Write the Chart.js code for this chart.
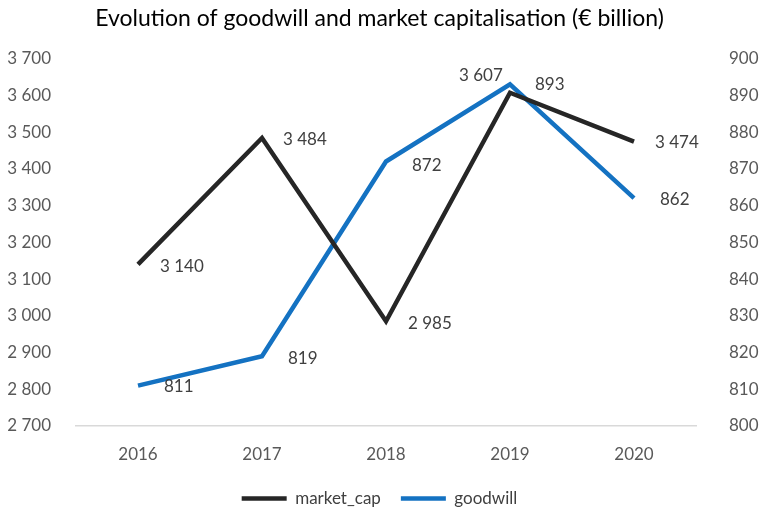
<!DOCTYPE html>
<html>
<head>
<meta charset="utf-8">
<script src="https://cdn.jsdelivr.net/npm/chart.js@4/dist/chart.umd.min.js"></script>
<style>
  html, body { margin: 0; padding: 0; background: #fff; }
  #wrap { width: 759px; height: 512px; }
</style>
</head>
<body>
<div id="wrap"><canvas id="chart"></canvas></div>
<script>
const years = ['2016', '2017', '2018', '2019', '2020'];
const marketCap = [3140, 3484, 2985, 3607, 3474];
const goodwill = [811, 819, 872, 893, 862];

const fmt = v => String(v).replace(/\B(?=(\d{3})+(?!\d))/g, ' ');
const FONT = 'Lato, "Open Sans", sans-serif';

// value labels, offset from each point (dx, dy)
const valueLabels = {
  id: 'valueLabels',
  afterDatasetsDraw(chart) {
    const ctx = chart.ctx;
    ctx.save();
    ctx.font = '17px ' + FONT;
    ctx.fillStyle = '#404040';
    ctx.textBaseline = 'middle';
    ctx.textAlign = 'left';
    chart.data.datasets.forEach((ds, i) => {
      const meta = chart.getDatasetMeta(i);
      meta.data.forEach((pt, j) => {
        const off = (ds.labelOffsets && ds.labelOffsets[j]) || [22, 2];
        ctx.fillText(fmt(ds.data[j]), pt.x + off[0], pt.y + off[1]);
      });
    });
    ctx.restore();
  }
};

new Chart(document.getElementById('chart'), {
  type: 'line',
  data: {
    labels: years,
    datasets: [
      {
        label: 'market_cap',
        data: marketCap,
        yAxisID: 'y',
        borderColor: '#262626',
        backgroundColor: '#262626',
        borderWidth: 4.5,
        pointRadius: 0,
        tension: 0,
        labelOffsets: [[22, 2], [21, 2], [22, 2], [-51, -17], [21, 1]]
      },
      {
        label: 'goodwill',
        data: goodwill,
        yAxisID: 'y1',
        borderColor: '#1472C2',
        backgroundColor: '#1472C2',
        borderWidth: 4.5,
        pointRadius: 0,
        tension: 0,
        labelOffsets: [[26, 1], [26, 2], [26, 4], [25, 0], [26, 1]]
      }
    ]
  },
  options: {
    responsive: true,
    maintainAspectRatio: false,
    animation: false,
    layout: { padding: { left: 0, right: 0, top: 0, bottom: -5 } },
    plugins: {
      title: {
        display: true,
        text: 'Evolution of goodwill and market capitalisation (€ billion)',
        color: '#000',
        font: { family: FONT, size: 23, weight: 'normal' },
        padding: { top: 5, bottom: 26 }
      },
      legend: {
        position: 'bottom',
        labels: {
          usePointStyle: true,
          pointStyle: 'line',
          pointStyleWidth: 45,
          color: '#404040',
          font: { family: FONT, size: 17 },
          padding: 20,
          boxHeight: 4
        }
      },
      tooltip: { enabled: false }
    },
    scales: {
      x: {
        offset: true,
        grid: { display: false, offset: true },
        border: { display: true, color: '#d9d9d9', width: 1.5 },
        ticks: { color: '#595959', font: { family: FONT, size: 17 }, padding: 10 },
        afterFit: s => { s.height = 44; }
      },
      y: {
        position: 'left',
        min: 2700,
        max: 3700,
        grid: { display: false },
        border: { display: false },
        ticks: {
          stepSize: 100,
          color: '#595959',
          font: { family: FONT, size: 17 },
          padding: 17,
          callback: v => fmt(v)
        },
        afterFit: s => { s.width = 76; }
      },
      y1: {
        position: 'right',
        min: 800,
        max: 900,
        grid: { display: false },
        border: { display: false },
        ticks: {
          stepSize: 10,
          color: '#595959',
          font: { family: FONT, size: 17 },
          padding: 25
        },
        afterFit: s => { s.width = 63; }
      }
    }
  },
  plugins: [valueLabels]
});
</script>
</body>
</html>
